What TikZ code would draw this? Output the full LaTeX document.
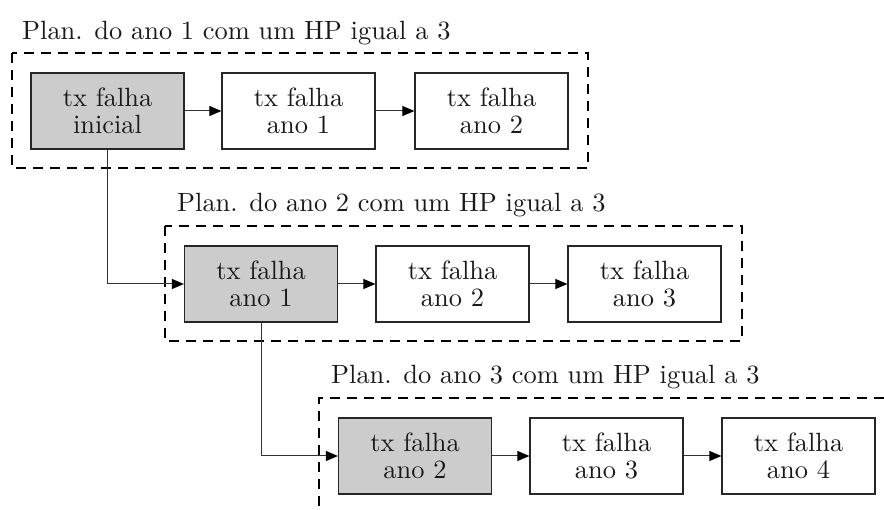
\documentclass[tikz,border=0pt]{standalone}
\usepackage{fontspec}
\newfontfamily\lmten{lmroman10-regular}[Extension=.otf]
\usetikzlibrary{arrows.meta}
\begin{document}
\begin{tikzpicture}[x=1pt,y=-1pt,
  box/.style={draw=black!85, line width=1.2pt, minimum width=153pt, minimum height=76pt,
    inner sep=0pt, align=center, text=black!90, font=\lmten\fontsize{26.4}{27}\selectfont},
  grbox/.style={box, fill=black!20},
  frame/.style={draw=black, line width=2pt, dash pattern=on 10pt off 7pt},
  title/.style={anchor=base west, inner sep=0pt, text=black!90, font=\lmten\fontsize{26.4}{27}\selectfont},
  link/.style={draw=black!80, line width=1pt, -{Triangle[length=12pt,width=10pt,color=black]}}]
\useasboundingbox (0,0) rectangle (884,510);
% titles
\node[title] (t1) at (22,40) {Plan. do ano 1 com um HP igual a 3};
\node[title] (t2) at (177,212) {Plan. do ano 2 com um HP igual a 3};
\node[title] (t3) at (331,384) {Plan. do ano 3 com um HP igual a 3};
% frames
\draw[frame] (12,53) rectangle (588,168);
\draw[frame] (165,226) rectangle (742,341);
\draw[frame] (884,398) -- (319,398) -- (319,515);
% row 1
\node[grbox] (a1) at (107.5,111) {tx falha\\inicial};
\node[box] (a2) at (298.5,111) {tx falha\\ano 1};
\node[box] (a3) at (491.5,111) {tx falha\\ano 2};
% row 2
\node[grbox] (b1) at (261,284) {tx falha\\ano 1};
\node[box] (b2) at (452.5,284) {tx falha\\ano 2};
\node[box] (b3) at (644.5,284) {tx falha\\ano 3};
% row 3
\node[grbox] (c1) at (415,456) {tx falha\\ano 2};
\node[box] (c2) at (606.5,456) {tx falha\\ano 3};
\node[box] (c3) at (798.5,456) {tx falha\\ano 4};
% connectors
\draw[link] (a1) -- (a2);
\draw[link] (a2) -- (a3);
\draw[link] (b1) -- (b2);
\draw[link] (b2) -- (b3);
\draw[link] (c1) -- (c2);
\draw[link] (c2) -- (c3);
\draw[link] (a1.south) |- (b1.west);
\draw[link] (b1.south) |- (c1.west);
\end{tikzpicture}
\end{document}
